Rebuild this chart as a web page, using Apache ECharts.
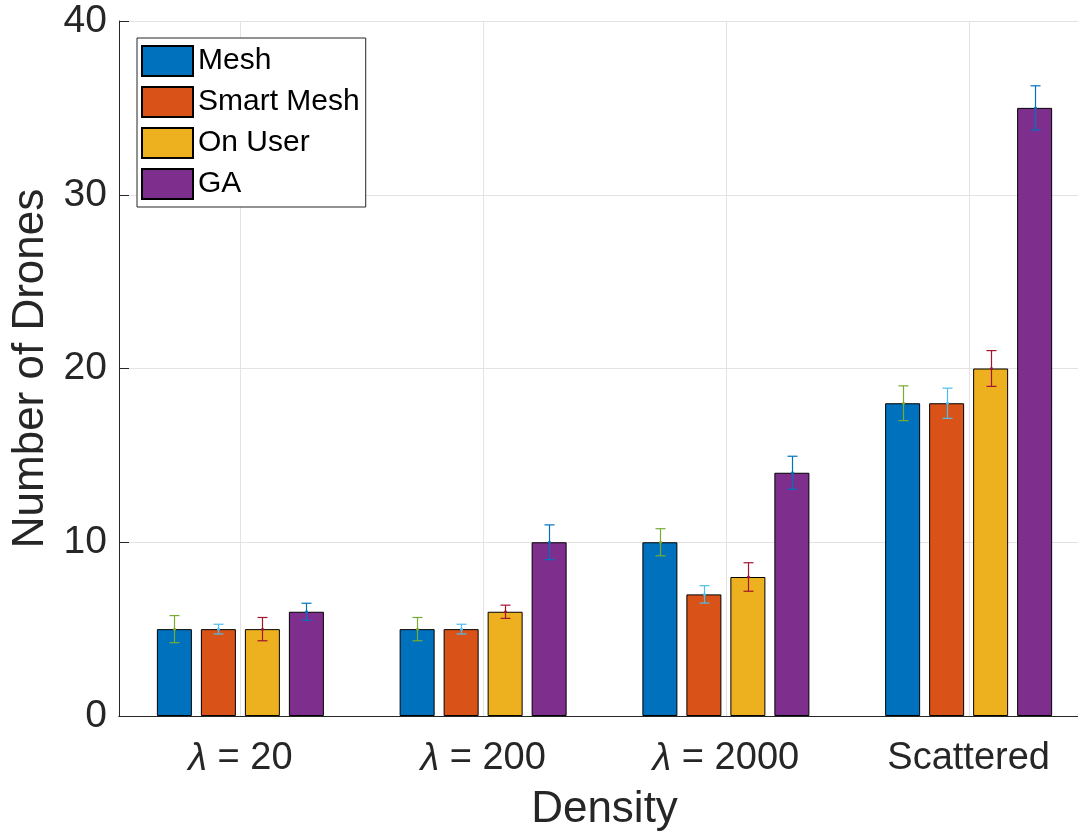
<!DOCTYPE html>
<html>
<head>
<meta charset="utf-8">
<script src="https://cdn.jsdelivr.net/npm/echarts@6/dist/echarts.min.js"></script>
<style>html,body{margin:0;padding:0;background:#fff;}#c{width:1078px;height:835px;}</style>
</head>
<body>
<div id="c"></div>
<script>
const categories = ['λ = 20', 'λ = 200', 'λ = 2000', 'Scattered'];
const seriesNames = ['Mesh', 'Smart Mesh', 'On User', 'GA'];
const meshValues = [5, 5, 10, 18];
const smartMeshValues = [5, 5, 7, 18];
const onUserValues = [5, 6, 8, 20];
const gaValues = [6, 10, 14, 35];
const meshErr = [0.78, 0.67, 0.78, 1.0];
const smartMeshErr = [0.28, 0.28, 0.5, 0.87];
const onUserErr = [0.67, 0.38, 0.82, 1.03];
const gaErr = [0.49, 1.0, 0.95, 1.27];
const yMin = 0, yMax = 40, yStep = 10;

const barColors = ['#0072BD', '#D95319', '#EDB120', '#7E2F8E'];
const errColors = ['#77AC30', '#4DBEEE', '#A2142F', '#0072BD'];
const BAR_W = 35, BAR_GAP = 9;
const FONT = 'Liberation Sans';
const TXT = '#262626';

const allValues = [meshValues, smartMeshValues, onUserValues, gaValues];
const allErr = [meshErr, smartMeshErr, onUserErr, gaErr];

const chart = echarts.init(document.getElementById('c'));

const series = [];
series.push({
  type: 'custom', z: 1, silent: true,
  data: categories.map((c, i) => [i, yMin]),
  encode: { x: 0, y: 1 },
  renderItem: (params, api) => {
    const i = api.value(0);
    const top = api.coord([i, yMax]);
    const bot = api.coord([i, yMin]);
    return { type: 'line', shape: { x1: Math.round(top[0]) + 0.5, y1: top[1], x2: Math.round(bot[0]) + 0.5, y2: bot[1] },
      style: { stroke: '#e3e3e3', lineWidth: 1 } };
  }
});
allValues.forEach((vals, k) => {
  series.push({
    name: seriesNames[k], type: 'bar', z: 2,
    data: vals, barWidth: BAR_W, barGap: (BAR_GAP / BAR_W * 100) + '%',
    itemStyle: { color: barColors[k], borderColor: '#000', borderWidth: 1 }
  });
});
allValues.forEach((vals, k) => {
  series.push({
    type: 'custom', z: 5, silent: true,
    data: vals.map((m, i) => [i, m, allErr[k][i]]),
    encode: { x: 0, y: 1 },
    renderItem: (params, api) => {
      const i = api.value(0), m = api.value(1), e = api.value(2);
      const c = api.coord([i, m]);
      const x = Math.round(c[0] + (k - 1.5) * (BAR_W + BAR_GAP)) + 0.5;
      const yT = api.coord([i, m + e])[1];
      const yB = api.coord([i, m - e])[1];
      const st = { stroke: errColors[k], lineWidth: 1.2 };
      return { type: 'group', children: [
        { type: 'line', shape: { x1: x, y1: yT, x2: x, y2: yB }, style: st },
        { type: 'line', shape: { x1: x - 5, y1: yT, x2: x + 5, y2: yT }, style: st },
        { type: 'line', shape: { x1: x - 5, y1: yB, x2: x + 5, y2: yB }, style: st },
        { type: 'circle', shape: { cx: x, cy: c[1], r: 1.5 }, style: { fill: errColors[k] } }
      ] };
    }
  });
});

chart.setOption({
  animation: false,
  backgroundColor: '#fff',
  textStyle: { fontFamily: FONT },
  grid: { left: 119, top: 21, width: 971, height: 695, containLabel: false, outerBoundsMode: 'none' },
  legend: {
    data: seriesNames, orient: 'vertical', left: 137, top: 38,
    icon: 'rect',
    itemWidth: 51, itemHeight: 30, itemGap: 9,
    padding: [7, 6, 7, 4],
    backgroundColor: '#fff', borderColor: '#262626', borderWidth: 1, borderRadius: 0,
    textStyle: { fontFamily: FONT, fontSize: 30, color: '#000' },
    selectedMode: false
  },
  xAxis: [{
    type: 'category', data: categories, position: 'bottom',
    axisLine: { lineStyle: { color: TXT, width: 1 } },
    axisTick: { inside: true, alignWithLabel: true, length: 10, lineStyle: { color: TXT } },
    axisLabel: {
      interval: 0,
      fontFamily: FONT, fontSize: 38, color: TXT, margin: 24,
      formatter: v => v.replace('λ', '{i|λ}'),
      rich: { i: { fontFamily: FONT, fontStyle: 'italic', fontSize: 38, color: TXT } }
    },
    splitLine: { show: false },
    name: 'Density', nameLocation: 'middle', nameGap: 72,
    nameTextStyle: { fontFamily: FONT, fontSize: 44, color: TXT }
  }, {
    type: 'category', data: categories, position: 'top',
    axisLine: { lineStyle: { color: TXT, width: 1 } },
    axisTick: { inside: true, alignWithLabel: true, length: 10, lineStyle: { color: TXT } },
    axisLabel: { show: false }, splitLine: { show: false }
  }],
  yAxis: [{
    type: 'value', min: yMin, max: yMax, interval: yStep, position: 'left',
    axisLine: { show: true, lineStyle: { color: TXT, width: 1 } },
    axisTick: { show: true, inside: true, length: 10, lineStyle: { color: TXT } },
    axisLabel: { fontFamily: FONT, fontSize: 39, color: TXT, margin: 12 },
    splitLine: { show: true, lineStyle: { color: '#e3e3e3', width: 1 } },
    name: 'Number of Drones', nameLocation: 'middle', nameGap: 62,
    nameTextStyle: { fontFamily: FONT, fontSize: 44, color: TXT }
  }, {
    type: 'value', min: yMin, max: yMax, interval: yStep, position: 'right',
    axisLine: { show: true, lineStyle: { color: TXT, width: 1 } },
    axisTick: { show: true, inside: true, length: 10, lineStyle: { color: TXT } },
    axisLabel: { show: false }, splitLine: { show: false }
  }],
  series: series
});
</script>
</body>
</html>
